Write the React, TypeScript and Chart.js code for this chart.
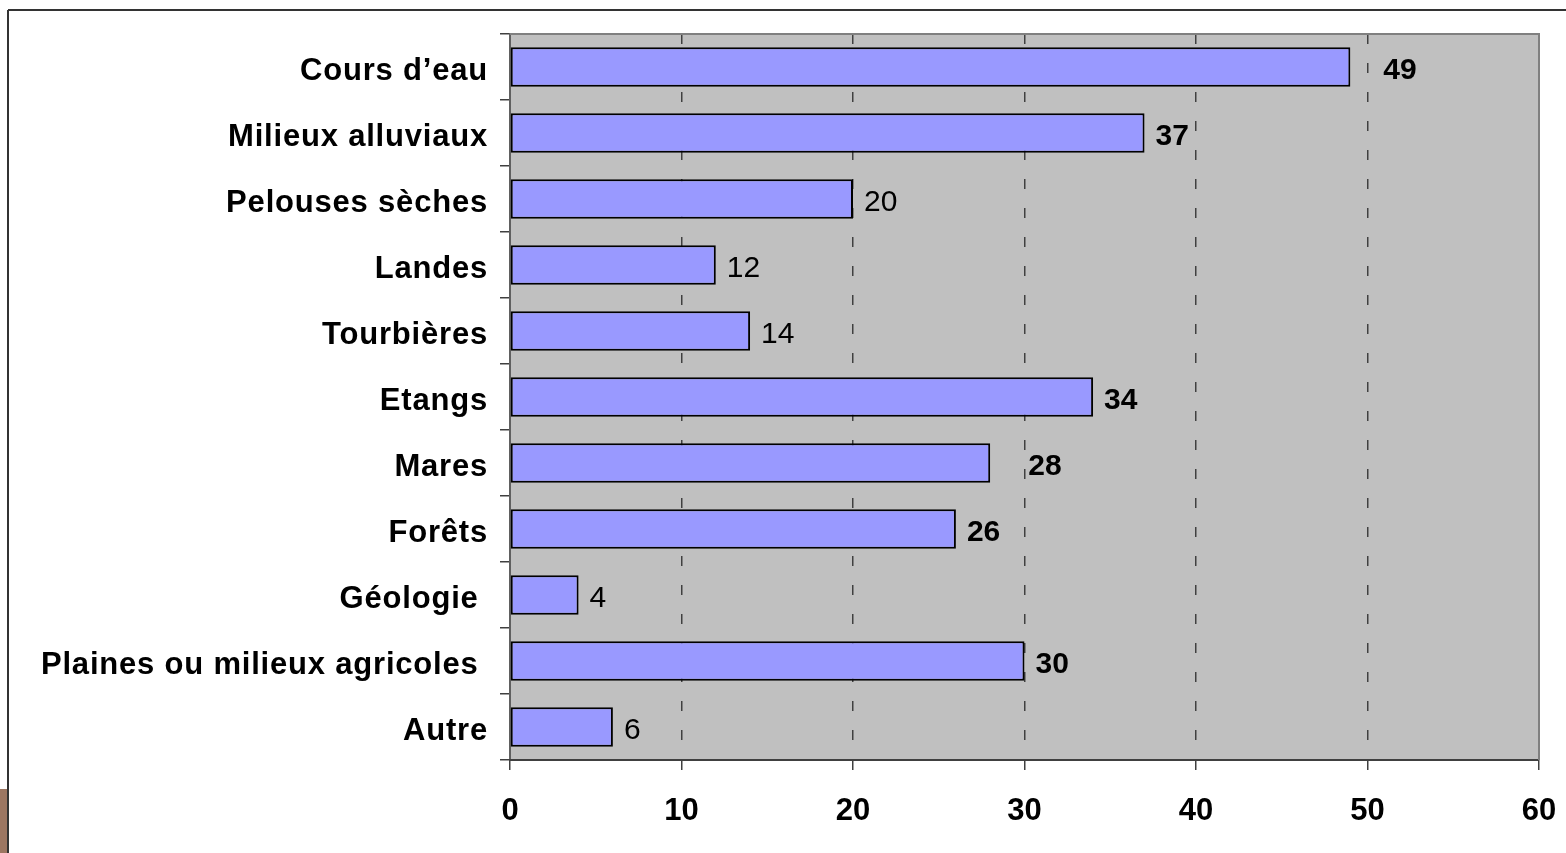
import React, { useEffect, useRef } from "react";
import { Chart, registerables } from "chart.js";

Chart.register(...registerables);

const categories = [
  "Cours d’eau",
  "Milieux alluviaux",
  "Pelouses sèches",
  "Landes",
  "Tourbières",
  "Etangs",
  "Mares",
  "Forêts",
  "Géologie ",
  "Plaines ou milieux agricoles ",
  "Autre",
];
const values = [49, 37, 20, 12, 14, 34, 28, 26, 4, 30, 6];
const xTickValues = [0, 10, 20, 30, 40, 50, 60];
const boldThreshold = 25;
// extra horizontal gap (px) for some value labels, as in the original
const valueLabelExtraGap = [22, 0, 0, 0, 0, 0, 27, 0, 0, 0, 0];

const FONT = "'Liberation Sans', Arial, sans-serif";
const W = 1566;
const H = 853;

const decorPlugin = {
  id: "decor",
  beforeDraw(chart: any) {
    const { ctx, chartArea } = chart;
    const ys = chart.scales.y;
    if (ys && !ys._lsPatched) {
      const orig = ys.drawLabels.bind(ys);
      ys.drawLabels = (area: any) => {
        ctx.save();
        (ctx as any).letterSpacing = "0.8px";
        ctx.translate(0, 4.5);
        orig(area);
        ctx.restore();
      };
      ys._lsPatched = true;
    }
    ctx.save();
    ctx.fillStyle = "#ffffff";
    ctx.fillRect(0, 0, W, H);
    // frame lines
    ctx.strokeStyle = "#333333";
    ctx.lineWidth = 2;
    ctx.beginPath();
    ctx.moveTo(8, 10);
    ctx.lineTo(W, 10);
    ctx.moveTo(8, 10);
    ctx.lineTo(8, H);
    ctx.stroke();
    ctx.fillStyle = "#9C7661";
    ctx.fillRect(0, 789, 7, H - 789);
    // plot background
    ctx.fillStyle = "#C0C0C0";
    ctx.fillRect(chartArea.left, chartArea.top, chartArea.right - chartArea.left, chartArea.bottom - chartArea.top);
    ctx.restore();
  },
  beforeDatasetsDraw(chart: any) {
    const { ctx, chartArea } = chart;
    ctx.save();
    ctx.strokeStyle = "#808080";
    ctx.lineWidth = 2;
    ctx.beginPath();
    ctx.moveTo(chartArea.left, chartArea.top);
    ctx.lineTo(chartArea.right, chartArea.top);
    ctx.lineTo(chartArea.right, chartArea.bottom);
    ctx.stroke();
    ctx.restore();
  },
  afterDatasetsDraw(chart: any) {
    const { ctx } = chart;
    const meta = chart.getDatasetMeta(0);
    ctx.save();
    ctx.fillStyle = "#000000";
    ctx.textAlign = "left";
    ctx.textBaseline = "middle";
    meta.data.forEach((bar: any, i: number) => {
      const v = values[i];
      ctx.font = (v >= boldThreshold ? "bold " : "") + "30px " + FONT;
      ctx.fillText(String(v), bar.x + 11 + valueLabelExtraGap[i], bar.y + 4);
    });
    ctx.restore();
  },
};

export default function App() {
  const ref = useRef<HTMLCanvasElement | null>(null);
  useEffect(() => {
    if (!ref.current) return;
    const chart = new Chart(ref.current, {
      type: "bar",
      data: {
        labels: categories,
        datasets: [
          {
            data: values,
            backgroundColor: "#9999FF",
            borderColor: "#000000",
            borderWidth: 2,
            borderSkipped: false,
            categoryPercentage: 1,
            barPercentage: 0.6,
          },
        ],
      },
      options: {
        indexAxis: "y",
        animation: false,
        responsive: false,
        maintainAspectRatio: false,
        layout: { padding: { top: 34, right: 27, bottom: 0, left: 0 } },
        plugins: { legend: { display: false }, tooltip: { enabled: false } },
        scales: {
          y: {
            type: "category",
            afterFit(scale: any) {
              scale.width = 510;
              scale.paddingTop = 0;
              scale.paddingBottom = 0;
            },
            ticks: {
              color: "#000000",
              font: { family: FONT, size: 31, weight: "bold" },
              padding: 12,
            },
            grid: {
              offset: true,
              drawOnChartArea: false,
              tickLength: 10,
              color: "#404040",
              lineWidth: 1.5,
            },
            border: { color: "#606060", width: 2 },
          },
          x: {
            type: "linear",
            min: 0,
            max: 60,
            afterFit(scale: any) {
              scale.height = 93;
              scale.paddingLeft = 0;
              scale.paddingRight = 0;
            },
            afterBuildTicks(scale: any) {
              scale.ticks = xTickValues.map((v) => ({ value: v }));
            },
            ticks: {
              color: "#000000",
              font: { family: FONT, size: 31, weight: "bold" },
              padding: 23,
            },
            grid: {
              color: (c: any) =>
                c.tick && (c.tick.value === 0 || c.tick.value === 60) ? "rgba(0,0,0,0)" : "#404040",
              tickColor: "#404040",
              lineWidth: 1.5,
              tickWidth: 1.5,
              tickLength: 10,
              tickBorderDash: [],
            },
            border: { color: "#404040", width: 2, dash: [10, 19], dashOffset: 0 },
          },
        },
      } as any,
      plugins: [decorPlugin],
    });
    return () => chart.destroy();
  }, []);
  return (
    <div style={{ position: "fixed", left: 0, top: 0, width: W, height: H, background: "#fff" }}>
      <canvas ref={ref} width={W} height={H} style={{ display: "block", width: W, height: H }} />
    </div>
  );
}
